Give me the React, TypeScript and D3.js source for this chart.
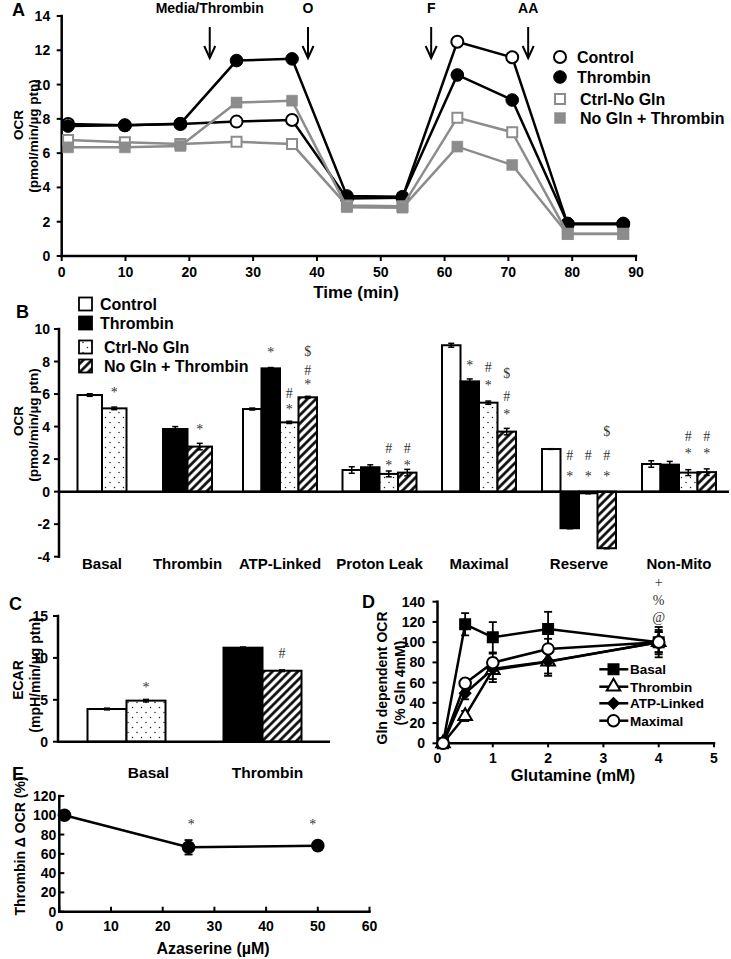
import React from 'react';
import * as d3 from 'd3';

// ---------------- Panel A : OCR time course ----------------
const aTime = [1.0, 9.9, 18.6, 27.4, 36.1, 44.7, 53.4, 62.0, 70.6, 79.3, 88.0];
const aControl = [7.7, 7.62, 7.7, 7.84, 7.93, 3.35, 3.4, 12.5, 11.59, 1.85, 1.85];
const aThrombin = [7.58, 7.62, 7.72, 11.4, 11.5, 3.5, 3.46, 10.56, 9.1, 1.9, 1.9];
const aCtrlNoGln = [6.77, 6.63, 6.53, 6.67, 6.53, 2.95, 2.9, 8.07, 7.22, 1.3, 1.3];
const aNoGlnThrombin = [6.34, 6.34, 6.42, 8.95, 9.06, 2.85, 2.82, 6.38, 5.31, 1.28, 1.28];
const aSeriesLabels = ['Control', 'Thrombin', 'Ctrl-No Gln', 'No Gln + Thrombin'];
const aInjectionLabels = ['Media/Thrombin', 'O', 'F', 'AA'];
const aInjectionTimes = [23.2, 38.6, 57.9, 73.1];
const aYTicks = [0, 2, 4, 6, 8, 10, 12, 14];
const aXTicks = [0, 10, 20, 30, 40, 50, 60, 70, 80, 90];

// ---------------- Panel B : OCR parameters ----------------
const bCategories = ['Basal', 'Thrombin', 'ATP-Linked', 'Proton Leak', 'Maximal', 'Reserve', 'Non-Mito'];
const bSeriesLabels = ['Control', 'Thrombin', 'Ctrl-No Gln', 'No Gln + Thrombin'];
const bControl = [5.94, null, 5.08, 1.33, 9.0, 2.62, 1.7];
const bThrombin = [null, 3.85, 7.58, 1.5, 6.78, -2.25, 1.66];
const bCtrlNoGln = [5.12, null, 4.26, 1.09, 5.47, -0.1, 1.17];
const bNoGlnThrombin = [null, 2.77, 5.8, 1.17, 3.69, -3.48, 1.2];
const bControlErr = [0.08, null, 0.06, 0.2, 0.12, 0.02, 0.2];
const bThrombinErr = [null, 0.15, 0.05, 0.15, 0.15, 0.03, 0.2];
const bCtrlNoGlnErr = [0.08, null, 0.07, 0.18, 0.1, 0.03, 0.18];
const bNoGlnThrombinErr = [null, 0.2, 0.06, 0.2, 0.2, 0.03, 0.2];
const bYTicks = [-4, -2, 0, 2, 4, 6, 8, 10];
// [category index, series index, symbol, value at which the symbol sits]
const bAnnotations: [number, number, string, number][] = [
  [0, 2, '*', 6.25],
  [1, 3, '*', 4.0],
  [2, 1, '*', 8.71],
  [2, 2, '*', 5.22], [2, 2, '#', 6.05],
  [2, 3, '*', 6.76], [2, 3, '#', 7.48], [2, 3, '$', 8.65],
  [3, 2, '*', 1.75], [3, 2, '#', 2.67],
  [3, 3, '*', 1.75], [3, 3, '#', 2.67],
  [4, 1, '*', 7.93],
  [4, 2, '*', 6.7], [4, 2, '#', 7.62],
  [4, 3, '*', 4.92], [4, 3, '#', 5.88], [4, 3, '$', 7.28],
  [5, 1, '*', 1.09], [5, 1, '#', 2.26],
  [5, 2, '*', 1.09], [5, 2, '#', 2.26],
  [5, 3, '*', 1.09], [5, 3, '#', 2.26], [5, 3, '$', 3.73],
  [6, 2, '*', 2.52], [6, 2, '#', 3.42],
  [6, 3, '*', 2.52], [6, 3, '#', 3.42],
];

// ---------------- Panel C : ECAR ----------------
const cCategories = ['Basal', 'Thrombin'];
const cControl = [3.9, null];
const cThrombin = [null, 11.22];
const cCtrlNoGln = [4.9, null];
const cNoGlnThrombin = [null, 8.47];
const cControlErr = [0.1, null];
const cThrombinErr = [null, 0.08];
const cCtrlNoGlnErr = [0.15, null];
const cNoGlnThrombinErr = [null, 0.1];
const cYTicks = [0, 5, 10, 15];
const cAnnotations: [number, number, string, number][] = [
  [0, 2, '*', 6.77],
  [1, 3, '#', 10.55],
];

// ---------------- Panel D : Gln dose response ----------------
const dGln = [0.1, 0.5, 1, 2, 4];
const dBasal = [0, 117.7, 104.8, 113, 100];
const dBasalErr = [0, 11, 15, 17, 15];
const dThrombin = [0, 27, 72.5, 80.7, 100];
const dThrombinErr = [0, 5, 12, 14, 12];
const dAtp = [0, 49.5, 73.5, 81, 100];
const dAtpErr = [0, 6, 10, 12, 10];
const dMaximal = [0, 59.3, 79.7, 93.3, 100];
const dMaximalErr = [0, 4, 9, 10, 10];
const dSeriesLabels = ['Basal', 'Thrombin', 'ATP-Linked', 'Maximal'];
const dYTicks = [0, 20, 40, 60, 80, 100, 120, 140];
const dXTicks = [0, 1, 2, 3, 4, 5];
const dAnnotationSymbols = ['+', '%', '@'];
const dAnnotationValues = [159.8, 141.7, 125.2];
const dAnnotationGln = 4;

// ---------------- Panel E : Azaserine ----------------
const eAzaserine = [1, 25, 50];
const eDelta = [100, 66.8, 68.5];
const eDeltaErr = [0, 7.5, 4];
const eXTicks = [0, 10, 20, 30, 40, 50, 60];
const eYTicks = [0, 20, 40, 60, 80, 100, 120];
const eAnnotationX = [25.5, 49];
const eAnnotationY = [93.4, 93.4];

// ---------------- styling / layout ----------------
const GRAY = '#8c8c8c';
const SANS = "'Liberation Sans', Arial, Helvetica, sans-serif";
const SERIF = "'Liberation Serif', 'Times New Roman', serif";

function YAxis({ scale, x, ticks, fontSize = 14, tickLen = 5, gap = 4, inward = false }: any) {
  const [a, b] = scale.range();
  return (
    <g>
      <line x1={x} x2={x} y1={a} y2={b} stroke="#000" strokeWidth={2.5} strokeLinecap="square" />
      {ticks.map((t: number) => (
        <g key={t}>
          <line x1={inward ? x : x - tickLen} x2={inward ? x + tickLen : x} y1={scale(t)} y2={scale(t)} stroke="#000" strokeWidth={2} />
          <text x={x - (inward ? 0 : tickLen) - gap} y={scale(t)} dy="0.36em" textAnchor="end" fontSize={fontSize} fontWeight="bold">
            {t}
          </text>
        </g>
      ))}
    </g>
  );
}

function XAxis({ scale, y, ticks, fontSize = 14, tickLen = 5, labelOffset = 21, inward = false }: any) {
  const [a, b] = scale.range();
  return (
    <g>
      <line x1={a} x2={b} y1={y} y2={y} stroke="#000" strokeWidth={2.5} strokeLinecap="square" />
      {ticks.map((t: number) => (
        <g key={t}>
          <line x1={scale(t)} x2={scale(t)} y1={y} y2={inward ? y - tickLen : y + tickLen} stroke="#000" strokeWidth={2} />
          <text x={scale(t)} y={y + labelOffset} textAnchor="middle" fontSize={fontSize} fontWeight="bold">
            {t}
          </text>
        </g>
      ))}
    </g>
  );
}

function VText({ x, y, size, children }: any) {
  return (
    <text transform={`translate(${x},${y}) rotate(-90)`} textAnchor="middle" dy="0.35em" fontSize={size} fontWeight="bold">
      {children}
    </text>
  );
}

const symOffset = (s: string, fs: number) => (s === '*' ? 0.5 * fs : 0.34 * fs);

function symbolPath(type: d3.SymbolType, area: number) {
  return d3.symbol().type(type).size(area)() as string;
}

function ErrBar({ x, y1, y2, cap = 6, sw = 1.5 }: any) {
  return (
    <g stroke="#000" strokeWidth={sw}>
      <line x1={x} x2={x} y1={y1} y2={y2} />
      <line x1={x - cap / 2} x2={x + cap / 2} y1={y1} y2={y1} />
      <line x1={x - cap / 2} x2={x + cap / 2} y1={y2} y2={y2} />
    </g>
  );
}

// grouped bar chart renderer shared by B and C
function GroupedBars({ series, errs, catWidths, x0, yScale, barW2, barW4, annotations, fills }: any) {
  const total = d3.sum(catWidths) as number;
  const xs = d3.scaleLinear().domain([0, total]).range([x0, x0 + total]);
  const edges = d3.cumsum([0, ...catWidths]);
  const nCat = catWidths.length;
  const bands = d3.range(nCat).map((i) => {
    const present = d3.range(series.length).filter((s) => series[s][i] != null);
    const n = present.length;
    const w = n <= 2 ? barW2 : barW4;
    const cx = (xs(edges[i]) + xs(edges[i + 1])) / 2;
    const band = d3.scaleBand<number>().domain(present).range([cx - (n * w) / 2, cx + (n * w) / 2]).padding(0);
    return { present, band, w, cx };
  });
  const y0 = yScale(0);
  return (
    <g>
      {bands.map(({ present, band, w }, i) =>
        present.map((s) => {
          const v = series[s][i] as number;
          const e = errs[s][i] as number;
          const bx = band(s) as number;
          const yv = yScale(v);
          return (
            <g key={`${i}-${s}`}>
              <rect x={bx} y={Math.min(yv, y0)} width={w} height={Math.abs(yv - y0)} fill={fills[s]} stroke="#000" strokeWidth={2} />
              {e > 0.01 && <ErrBar x={bx + w / 2} y1={yScale(v + e)} y2={yScale(v - e)} cap={6} sw={1.5} />}
            </g>
          );
        })
      )}
      <g opacity={0.999}>
        {annotations.map(([ci, s, sym, val]: any, k: number) => {
          const { band, w } = bands[ci];
          const fs = 14;
          return (
            <text key={k} x={(band(s) as number) + w / 2} y={yScale(val) + symOffset(sym, fs)} textAnchor="middle" fontFamily={SERIF} fontSize={fs} fill="#333">
              {sym}
            </text>
          );
        })}
      </g>
      {edges.map((e: number, k: number) =>
        k === 0 ? null : <line key={`t${k}`} x1={xs(e)} x2={xs(e)} y1={y0} y2={y0 + 5} stroke="#000" strokeWidth={2} />
      )}
      <line x1={x0} x2={x0 + total} y1={y0} y2={y0} stroke="#000" strokeWidth={2.5} />
    </g>
  );
}

export default function App() {
  // ---------- A ----------
  const xA = d3.scaleLinear().domain([0, 90]).range([61.7, 636]);
  const yA = d3.scaleLinear().domain([0, 14]).range([256, 16]);
  const lineA = (vals: number[]) => d3.line<number>().x((_, i) => xA(aTime[i])).y((d) => yA(d))(vals) as string;
  const aSeries = [
    { vals: aControl, color: '#000', type: d3.symbolCircle, area: 113, fill: '#fff', sw: 2 },
    { vals: aThrombin, color: '#000', type: d3.symbolCircle, area: 125, fill: '#000', sw: 1 },
    { vals: aCtrlNoGln, color: GRAY, type: d3.symbolSquare, area: 100, fill: '#fff', sw: 2 },
    { vals: aNoGlnThrombin, color: GRAY, type: d3.symbolSquare, area: 121, fill: GRAY, sw: 0.5 },
  ];
  const aLegendY = [57, 77, 99, 118];
  const aLegendTextX = [577, 577, 580, 580];

  // ---------- B ----------
  const yB = d3.scaleLinear().domain([-4, 10]).range([556.7, 329]);
  const bCatWidths = [86, 85, 100, 99, 100, 100, 100];
  const bSeries = [bControl, bThrombin, bCtrlNoGln, bNoGlnThrombin];
  const bErrs = [bControlErr, bThrombinErr, bCtrlNoGlnErr, bNoGlnThrombinErr];
  const fills = ['#fff', '#000', 'url(#dots)', 'url(#hatch)'];
  const bEdges = d3.cumsum([0, ...bCatWidths]);
  const xBEdge = d3.scaleLinear().domain([0, d3.sum(bCatWidths)]).range([59, 59 + d3.sum(bCatWidths)]);
  const bLegendY = [304, 323, 347, 366];
  const bLegendTextX = [100, 100, 104, 104];

  // ---------- C ----------
  const yC = d3.scaleLinear().domain([0, 15]).range([741.7, 616]);
  const cCatWidths = [137, 135];
  const cSeries = [cControl, cThrombin, cCtrlNoGln, cNoGlnThrombin];
  const cErrs = [cControlErr, cThrombinErr, cCtrlNoGlnErr, cNoGlnThrombinErr];
  const cEdges = d3.cumsum([0, ...cCatWidths]);
  const xCEdge = d3.scaleLinear().domain([0, d3.sum(cCatWidths)]).range([58, 58 + d3.sum(cCatWidths)]);
  const cLabelShift = [22, 5];

  // ---------- D ----------
  const xD = d3.scaleLinear().domain([0, 5]).range([437.5, 714]);
  const yD = d3.scaleLinear().domain([0, 140]).range([743.3, 601.7]);
  const lineD = (vals: number[]) => d3.line<number>().x((_, i) => xD(dGln[i])).y((d) => yD(d))(vals) as string;
  const dSeries = [
    { vals: dBasal, errs: dBasalErr, type: d3.symbolSquare, area: 100, fill: '#000', rot: 0 },
    { vals: dThrombin, errs: dThrombinErr, type: d3.symbolTriangle, area: 80, fill: '#fff', rot: 0 },
    { vals: dAtp, errs: dAtpErr, type: d3.symbolSquare, area: 55, fill: '#000', rot: 45 },
    { vals: dMaximal, errs: dMaximalErr, type: d3.symbolCircle, area: 105, fill: '#fff', rot: 0 },
  ];
  const dLegendY = [669.3, 686.7, 703.3, 720.7];

  // ---------- E ----------
  const xE = d3.scaleLinear().domain([0, 60]).range([59.3, 369.5]);
  const yE = d3.scaleLinear().domain([0, 120]).range([911.7, 796]);
  const lineE = d3.line<number>().x((_, i) => xE(eAzaserine[i])).y((d) => yE(d));

  return (
    <svg
      width={731}
      height={959}
      viewBox="0 0 731 959"
      style={{ position: 'absolute', left: 0, top: 0, background: '#fff' }}
      fontFamily={SANS}
    >
      <defs>
        <pattern id="dots" patternUnits="userSpaceOnUse" width={9} height={10}>
          <rect width={9} height={10} fill="#fff" />
          <circle cx={2} cy={2.5} r={0.75} fill="#222" />
          <circle cx={6.5} cy={7.5} r={0.75} fill="#222" />
        </pattern>
        <pattern id="hatch" patternUnits="userSpaceOnUse" width={6} height={6} patternTransform="rotate(45)">
          <rect width={6} height={6} fill="#fff" />
          <line x1={1.5} y1={0} x2={1.5} y2={6} stroke="#000" strokeWidth={2.6} />
        </pattern>
      </defs>
      <rect width={731} height={959} fill="#fff" />

      {/* ================= Panel A ================= */}
      <text x={12} y={16} fontSize={18} fontWeight="bold">A</text>
      <YAxis scale={yA} x={61.7} ticks={aYTicks} tickLen={5} gap={6.5} />
      <XAxis scale={xA} y={256} ticks={aXTicks} tickLen={5} labelOffset={21} />
      <VText x={18} y={125} size={13.5}>OCR</VText>
      <VText x={33} y={136} size={13.5}>(pmol/min/µg ptn)</VText>
      <text x={356} y={298} textAnchor="middle" fontSize={17} fontWeight="bold">Time (min)</text>
      {aInjectionTimes.map((t, i) => (
        <g key={i}>
          <text x={xA(t)} y={13} textAnchor="middle" fontSize={14} fontWeight="bold">{aInjectionLabels[i]}</text>
          <line x1={xA(t)} x2={xA(t)} y1={27} y2={58} stroke="#000" strokeWidth={2} />
          <polyline points={`${xA(t) - 5.5},46 ${xA(t)},58 ${xA(t) + 5.5},46`} fill="none" stroke="#000" strokeWidth={2} />
        </g>
      ))}
      {aSeries.map((s, k) => (
        <g key={k}>
          <path d={lineA(s.vals)} fill="none" stroke={s.color} strokeWidth={2.5} />
          {s.vals.map((v, i) => (
            <path key={i} d={symbolPath(s.type, s.area)} transform={`translate(${xA(aTime[i])},${yA(v)})`} fill={s.fill} stroke={s.color} strokeWidth={s.sw} />
          ))}
        </g>
      ))}
      {aSeries.map((s, k) => (
        <g key={`lg${k}`}>
          <path d={symbolPath(s.type, s.area)} transform={`translate(560,${aLegendY[k]})`} fill={s.fill} stroke={s.color} strokeWidth={s.sw} />
          <text x={aLegendTextX[k]} y={aLegendY[k]} dy="0.36em" fontSize={16} fontWeight="bold">{aSeriesLabels[k]}</text>
        </g>
      ))}

      {/* ================= Panel B ================= */}
      <text x={16} y={318} fontSize={18} fontWeight="bold">B</text>
      <YAxis scale={yB} x={59} ticks={bYTicks} tickLen={5} gap={4} />
      <GroupedBars
        series={bSeries}
        errs={bErrs}
        catWidths={bCatWidths}
        x0={59}
        yScale={yB}
        barW2={24.5}
        barW4={18.5}
        annotations={bAnnotations}
        fills={fills}
      />
      {bCategories.map((c, i) => (
        <text key={c} x={(xBEdge(bEdges[i]) + xBEdge(bEdges[i + 1])) / 2} y={568.5} textAnchor="middle" fontSize={15} fontWeight="bold">{c}</text>
      ))}
      <VText x={18} y={421} size={13.5}>OCR</VText>
      <VText x={33} y={425} size={13.5}>(pmol/min/µg ptn)</VText>
      {bSeriesLabels.map((l, k) => (
        <g key={l}>
          <rect x={79} y={bLegendY[k] - 6.5} width={13} height={13} fill={fills[k]} stroke="#000" strokeWidth={1.8} />
          <text x={bLegendTextX[k]} y={bLegendY[k]} dy="0.36em" fontSize={16} fontWeight="bold">{l}</text>
        </g>
      ))}

      {/* ================= Panel C ================= */}
      <text x={9} y={610} fontSize={18} fontWeight="bold">C</text>
      <YAxis scale={yC} x={58} ticks={cYTicks} tickLen={5} gap={5} />
      <GroupedBars
        series={cSeries}
        errs={cErrs}
        catWidths={cCatWidths}
        x0={58}
        yScale={yC}
        barW2={39}
        barW4={39}
        annotations={cAnnotations}
        fills={fills}
      />
      {cCategories.map((c, i) => (
        <text key={c} x={(xCEdge(cEdges[i]) + xCEdge(cEdges[i + 1])) / 2 + cLabelShift[i]} y={777.5} textAnchor="middle" fontSize={15.5} fontWeight="bold">{c}</text>
      ))}
      <VText x={18} y={680} size={14}>ECAR</VText>
      <VText x={35} y={675} size={14}>(mpH/min/µg ptn)</VText>

      {/* ================= Panel D ================= */}
      <text x={362} y={608} fontSize={18} fontWeight="bold">D</text>
      <YAxis scale={yD} x={437.5} ticks={dYTicks} tickLen={5} gap={7.5} />
      <XAxis scale={xD} y={743.3} ticks={dXTicks} tickLen={4} labelOffset={19.5} />
      <VText x={382} y={678} size={14}>Gln dependent OCR</VText>
      <VText x={400} y={683} size={14}>(% Gln 4mM)</VText>
      <text x={573} y={781} textAnchor="middle" fontSize={16.5} fontWeight="bold">Glutamine (mM)</text>
      {dSeries.map((s, k) => (
        <g key={`e${k}`}>
          {s.vals.map((v, i) =>
            s.errs[i] > 0 ? <ErrBar key={i} x={xD(dGln[i])} y1={yD(v + s.errs[i])} y2={yD(v - s.errs[i])} cap={8} sw={1.8} /> : null
          )}
        </g>
      ))}
      {dSeries.map((s, k) => (
        <path key={`l${k}`} d={lineD(s.vals)} fill="none" stroke="#000" strokeWidth={2.5} />
      ))}
      {dSeries.map((s, k) => (
        <g key={`m${k}`}>
          {s.vals.map((v, i) => (
            <path key={i} d={symbolPath(s.type, s.area)} transform={`translate(${xD(dGln[i])},${yD(v)}) rotate(${s.rot})`} fill={s.fill} stroke="#000" strokeWidth={2} />
          ))}
        </g>
      ))}
      {dSeries.map((s, k) => (
        <g key={`dl${k}`}>
          <line x1={599.3} x2={628.3} y1={dLegendY[k]} y2={dLegendY[k]} stroke="#000" strokeWidth={2.5} />
          <path d={symbolPath(s.type, s.area)} transform={`translate(613.5,${dLegendY[k]}) rotate(${s.rot})`} fill={s.fill} stroke="#000" strokeWidth={2} />
          <text x={630} y={dLegendY[k]} dy="0.36em" fontSize={13.5} fontWeight="bold">{dSeriesLabels[k]}</text>
        </g>
      ))}
      <g opacity={0.999}>
        {dAnnotationSymbols.map((sym, i) => (
          <text key={sym} x={xD(dAnnotationGln)} y={yD(dAnnotationValues[i])} dy="0.35em" textAnchor="middle" fontFamily={SERIF} fontSize={14} fill="#333">{sym}</text>
        ))}
      </g>

      {/* ================= Panel E ================= */}
      <text x={12} y={780} fontSize={18} fontWeight="bold">E</text>
      <YAxis scale={yE} x={59.3} ticks={eYTicks} tickLen={5} gap={3} inward={true} />
      <XAxis scale={xE} y={911.7} ticks={eXTicks} tickLen={5} labelOffset={19.5} inward={true} />
      <VText x={20} y={846} size={14}>Thrombin Δ OCR (%)</VText>
      <text x={213} y={954} textAnchor="middle" fontSize={16} fontWeight="bold">Azaserine (µM)</text>
      {eDelta.map((v, i) =>
        eDeltaErr[i] > 0 ? <ErrBar key={`ee${i}`} x={xE(eAzaserine[i])} y1={yE(v + eDeltaErr[i])} y2={yE(v - eDeltaErr[i])} cap={8} sw={1.8} /> : null
      )}
      <path d={lineE(eDelta) as string} fill="none" stroke="#000" strokeWidth={2.5} />
      {eDelta.map((v, i) => (
        <circle key={`ec${i}`} cx={xE(eAzaserine[i])} cy={yE(v)} r={6.8} fill="#000" />
      ))}
      <g opacity={0.999}>
        {eAnnotationX.map((ax, i) => (
          <text key={`ea${i}`} x={xE(ax)} y={yE(eAnnotationY[i]) + symOffset('*', 14)} textAnchor="middle" fontFamily={SERIF} fontSize={14} fill="#333">*</text>
        ))}
      </g>
    </svg>
  );
}
